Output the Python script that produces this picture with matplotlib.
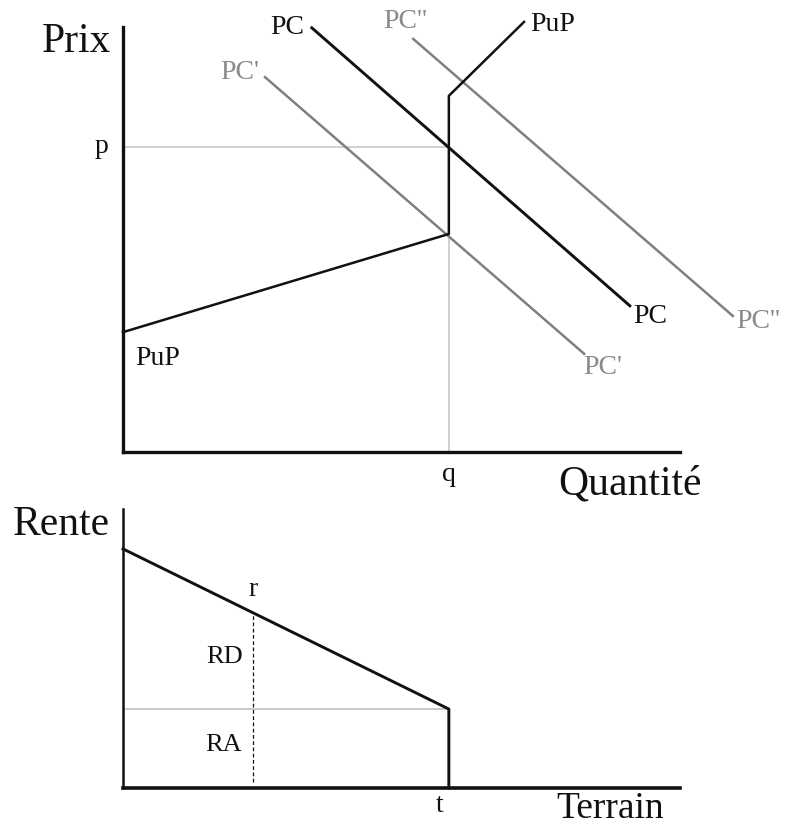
import matplotlib
matplotlib.use("Agg")
import matplotlib.pyplot as plt

# ---- data (arbitrary units, 0..100 axes) ----
q_star = 58.5
p_star = 71.8

pup_q = [0, 58.5, 58.5, 72.0]
pup_p = [28.2, 51.3, 83.8, 101.2]

pc_q = [33.9, 91.0]
pc_p = [99.8, 34.4]

pc1_q = [25.5, 82.8]
pc1_p = [88.2, 23.1]

pc2_q = [52.1, 109.5]
pc2_p = [97.2, 32.0]

rent_x = [0, 58.5, 58.5]
rent_y = [85.7, 28.3, 0]
ra_level = 28.3
r_x = 23.3
r_dash = [2.2, 62.0]

W, H = 785, 827
fig = plt.figure(figsize=(W / 100, H / 100), dpi=100)
plt.rcParams['font.family'] = ['Liberation Serif', 'DejaVu Serif']

BLACK = '#111111'
GRAY = '#808080'
GRAYTXT = '#8a8a8a'
GUIDE = '#c8c8c8'

BIG = 30
SMALL = 20

# ---- top panel ----
ax = fig.add_axes([123 / W, (H - 452) / H, 557 / W, 425 / H])
ax.set_xlim(0, 100)
ax.set_ylim(0, 100)
for s in ['top', 'right']:
    ax.spines[s].set_visible(False)
for s in ['left', 'bottom']:
    ax.spines[s].set_linewidth(2.4)
    ax.spines[s].set_color(BLACK)
ax.set_xticks([])
ax.set_yticks([])

ax.plot([0, q_star], [p_star, p_star], color=GUIDE, lw=1.2, zorder=1)
ax.plot([q_star, q_star], [0, pup_p[1]], color=GUIDE, lw=1.2, zorder=1)

ax.plot(pc1_q, pc1_p, color=GRAY, lw=1.8, clip_on=False, zorder=2)
ax.plot(pc2_q, pc2_p, color=GRAY, lw=1.8, clip_on=False, zorder=2)
ax.plot(pc_q, pc_p, color=BLACK, lw=2.1, clip_on=False, zorder=3)
ax.plot(pup_q, pup_p, color=BLACK, lw=1.8, clip_on=False, zorder=4)

tk = dict(ha='center', va='center', clip_on=False)
ax.text(-8.3, 96.5, 'Prix', fontsize=BIG, color=BLACK, **tk)
ax.text(-3.8, 71.8, 'p', fontsize=SMALL, color=BLACK, **tk)
ax.text(58.5, -5.4, 'q', fontsize=SMALL, color=BLACK, **tk)
ax.text(91.0, -7.6, 'Quantité', fontsize=BIG, color=BLACK, **tk)
ax.text(29.4, 100.0, 'PC', fontsize=SMALL, color=BLACK, **tk)
ax.text(94.6, 31.8, 'PC', fontsize=SMALL, color=BLACK, **tk)
ax.text(21.0, 89.2, "PC'", fontsize=SMALL, color=GRAYTXT, **tk)
ax.text(86.2, 19.8, "PC'", fontsize=SMALL, color=GRAYTXT, **tk)
ax.text(50.6, 101.2, "PC''", fontsize=SMALL, color=GRAYTXT, **tk)
ax.text(114.0, 30.8, "PC''", fontsize=SMALL, color=GRAYTXT, **tk)
ax.text(77.2, 100.7, 'PuP', fontsize=SMALL, color=BLACK, **tk)
ax.text(6.3, 22.1, 'PuP', fontsize=SMALL, color=BLACK, **tk)

# ---- bottom panel ----
bx = fig.add_axes([123 / W, (H - 788) / H, 557 / W, 279 / H])
bx.set_xlim(0, 100)
bx.set_ylim(0, 100)
for s in ['top', 'right']:
    bx.spines[s].set_visible(False)
bx.spines['left'].set_linewidth(1.8)
bx.spines['bottom'].set_linewidth(2.6)
for s in ['left', 'bottom']:
    bx.spines[s].set_color(BLACK)
bx.set_xticks([])
bx.set_yticks([])

bx.plot([0, rent_x[1]], [ra_level, ra_level], color=GUIDE, lw=1.4, zorder=1)
bx.plot([r_x, r_x], r_dash, color=BLACK, lw=0.9, ls=(0, (3, 2)), zorder=2)
bx.plot(rent_x, rent_y, color=BLACK, lw=2.1, clip_on=False, zorder=3)

bx.text(-11.0, 94.5, 'Rente', fontsize=BIG, color=BLACK, **tk)
bx.text(23.3, 71.3, 'r', fontsize=SMALL, color=BLACK, **tk)
bx.text(18.3, 47.0, 'RD', fontsize=19, color=BLACK, **tk)
bx.text(18.1, 15.4, 'RA', fontsize=19, color=BLACK, **tk)
bx.text(56.9, -6.3, 't', fontsize=SMALL, color=BLACK, **tk)
bx.text(87.4, -10.6, 'Terrain', fontsize=27, color=BLACK,
        ha='center', va='baseline', clip_on=False)

fig.savefig('out.png', dpi=100, facecolor='white')
